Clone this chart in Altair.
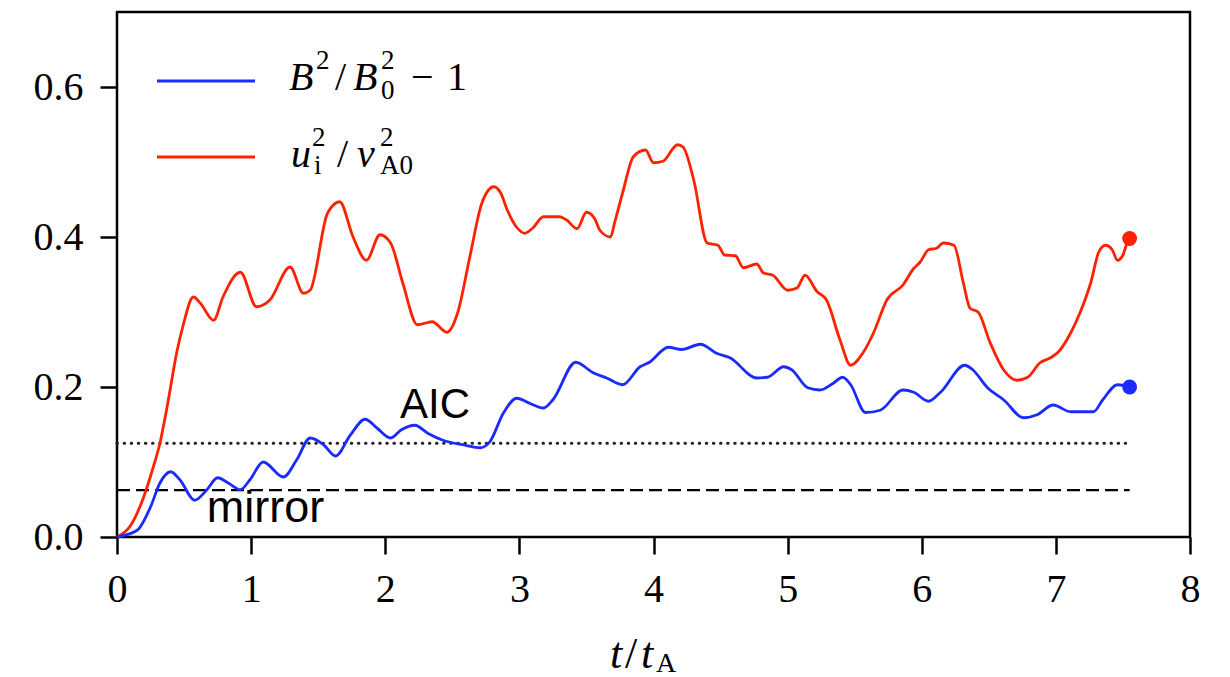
import altair as alt
import pandas as pd

# ---- data ----
t_red = [0.00, 0.10, 0.19, 0.27, 0.32, 0.37, 0.45, 0.49, 0.57, 0.62, 0.72, 0.79, 0.92, 1.04, 1.14,
         1.29, 1.39, 1.44, 1.57, 1.66, 1.76, 1.86, 1.96, 2.04, 2.13, 2.24, 2.35, 2.46, 2.54, 2.63,
         2.72, 2.81, 2.86, 2.91, 2.98, 3.04, 3.10, 3.18, 3.30, 3.35, 3.43, 3.50, 3.56, 3.60, 3.68,
         3.71, 3.77, 3.85, 3.94, 4.00, 4.07, 4.18, 4.22, 4.30, 4.40, 4.48, 4.53, 4.61, 4.67, 4.77,
         4.82, 4.89, 5.00, 5.07, 5.13, 5.22, 5.29, 5.39, 5.47, 5.56, 5.64, 5.74, 5.86, 5.94, 5.99,
         6.05, 6.11, 6.16, 6.24, 6.31, 6.36, 6.42, 6.51, 6.61, 6.71, 6.79, 6.88, 6.96, 7.02, 7.11,
         7.18, 7.26, 7.32, 7.37, 7.42, 7.46, 7.50, 7.53, 7.55]
y_red = [0.000, 0.015, 0.049, 0.093, 0.125, 0.170, 0.250, 0.280, 0.320, 0.312, 0.289, 0.320, 0.353, 0.307, 0.316,
         0.360, 0.325, 0.329, 0.432, 0.447, 0.400, 0.369, 0.403, 0.392, 0.339, 0.283, 0.287, 0.273, 0.299, 0.373,
         0.445, 0.467, 0.459, 0.436, 0.413, 0.405, 0.412, 0.427, 0.427, 0.423, 0.411, 0.433, 0.425, 0.409, 0.400,
         0.419, 0.459, 0.507, 0.516, 0.499, 0.501, 0.523, 0.520, 0.476, 0.392, 0.389, 0.376, 0.375, 0.359, 0.364,
         0.352, 0.349, 0.329, 0.332, 0.349, 0.327, 0.316, 0.263, 0.229, 0.245, 0.272, 0.316, 0.336, 0.358, 0.367,
         0.383, 0.385, 0.392, 0.389, 0.339, 0.305, 0.300, 0.259, 0.223, 0.209, 0.213, 0.232, 0.239, 0.247, 0.272,
         0.299, 0.339, 0.380, 0.389, 0.383, 0.369, 0.376, 0.392, 0.398]

t_blue = [0.00, 0.15, 0.25, 0.32, 0.40, 0.47, 0.58, 0.67, 0.75, 0.83, 0.92, 0.99, 1.09, 1.24, 1.34,
          1.44, 1.54, 1.63, 1.74, 1.85, 1.94, 2.04, 2.12, 2.22, 2.32, 2.43, 2.58, 2.71, 2.78, 2.88,
          2.98, 3.08, 3.18, 3.25, 3.42, 3.55, 3.65, 3.77, 3.90, 3.97, 4.11, 4.21, 4.35, 4.47, 4.57,
          4.77, 4.85, 4.97, 5.03, 5.15, 5.24, 5.34, 5.41, 5.47, 5.58, 5.69, 5.86, 5.94, 6.05, 6.14,
          6.32, 6.38, 6.49, 6.61, 6.76, 6.86, 6.98, 7.11, 7.28, 7.35, 7.46, 7.55]
y_blue = [0.000, 0.009, 0.040, 0.072, 0.087, 0.076, 0.049, 0.063, 0.079, 0.072, 0.063, 0.076, 0.100, 0.080, 0.103,
          0.132, 0.123, 0.108, 0.136, 0.157, 0.145, 0.132, 0.143, 0.149, 0.138, 0.129, 0.123, 0.119, 0.127, 0.165,
          0.185, 0.178, 0.172, 0.183, 0.233, 0.219, 0.212, 0.203, 0.227, 0.233, 0.253, 0.250, 0.257, 0.245, 0.239,
          0.212, 0.213, 0.227, 0.223, 0.199, 0.196, 0.205, 0.213, 0.203, 0.166, 0.169, 0.196, 0.193, 0.181, 0.193,
          0.229, 0.223, 0.199, 0.183, 0.159, 0.163, 0.176, 0.167, 0.167, 0.183, 0.203, 0.200]

aic_level = 0.125
mirror_level = 0.0625
t_end = 7.55
ann_labels = ["AIC", "mirror"]
ann_t = [2.11, 0.67]
ann_y = [0.159, 0.020]
x_ticks = [0, 1, 2, 3, 4, 5, 6, 7, 8]
y_ticks = [0.0, 0.2, 0.4, 0.6]

BLUE = "#1a2bff"
RED = "#ff2200"
SERIF = "Liberation Serif"
SANS = "Liberation Sans"

red_df = pd.DataFrame({"t": t_red, "v": y_red})
blue_df = pd.DataFrame({"t": t_blue, "v": y_blue})
end_red = pd.DataFrame({"t": [t_red[-1]], "v": [y_red[-1]]})
end_blue = pd.DataFrame({"t": [t_blue[-1]], "v": [y_blue[-1]]})
levels_df = pd.DataFrame({"lvl": [aic_level, mirror_level], "t0": [0, 0], "t1": [t_end, t_end]})

xs = alt.Scale(domain=[0, 8], nice=False, zero=False)
ys = alt.Scale(domain=[0, 0.7], nice=False, zero=False)

X = alt.X("t:Q", scale=xs, axis=alt.Axis(values=x_ticks, format="d", title=None, labelPadding=15))
Y = alt.Y("v:Q", scale=ys, axis=alt.Axis(values=y_ticks, format=".1f", title=None, labelPadding=17))

dotted = alt.Chart(levels_df.iloc[[0]]).mark_rule(
    color="#222222", strokeWidth=3, strokeDash=[0.5, 6.6], strokeCap="round"
).encode(x=alt.X("t0:Q", scale=xs), x2="t1:Q", y=alt.Y("lvl:Q", scale=ys))
dashed = alt.Chart(levels_df.iloc[[1]]).mark_rule(
    color="black", strokeWidth=2.3, strokeDash=[13, 6]
).encode(x=alt.X("t0:Q", scale=xs), x2="t1:Q", y=alt.Y("lvl:Q", scale=ys))

red_line = alt.Chart(red_df).mark_line(color=RED, strokeWidth=2.8, interpolate="monotone").encode(x=X, y=Y)
blue_line = alt.Chart(blue_df).mark_line(color=BLUE, strokeWidth=2.8, interpolate="monotone").encode(x=X, y=Y)
red_dot = alt.Chart(end_red).mark_circle(color=RED, size=220, opacity=1).encode(x=X, y=Y)
blue_dot = alt.Chart(end_blue).mark_circle(color=BLUE, size=220, opacity=1).encode(x=X, y=Y)

aic_txt = alt.Chart(pd.DataFrame({"t": [ann_t[0]], "v": [ann_y[0]], "s": [ann_labels[0]]})).mark_text(
    font=SANS, fontSize=42, align="left", baseline="alphabetic", color="black"
).encode(x=X, y=Y, text="s:N")
mirror_txt = alt.Chart(pd.DataFrame({"t": [ann_t[1]], "v": [ann_y[1]], "s": [ann_labels[1]]})).mark_text(
    font=SANS, fontSize=45, align="left", baseline="alphabetic", color="black"
).encode(x=X, y=Y, text="s:N")

one = alt.Data(values=[{"k": 0}])


def piece(txt, vx, vy, size, style="normal"):
    return alt.Chart(one).mark_text(
        text=txt, font=SERIF, fontSize=size, fontStyle=style,
        align="left", baseline="alphabetic", color="black"
    ).encode(x=alt.value(vx), y=alt.value(vy))


def seg(color, vy):
    return alt.Chart(one).mark_rule(color=color, strokeWidth=2.8).encode(
        x=alt.value(40), x2=alt.value(138), y=alt.value(vy))


legend = [
    seg(BLUE, 69), seg(RED, 145),
    # B^2/B_0^2 - 1
    piece("B", 172, 78, 40, "italic"),
    piece("2", 199, 57, 27),
    piece("/", 218, 78, 40),
    piece("B", 236, 78, 40, "italic"),
    piece("2", 264, 57, 27),
    piece("0", 264, 87, 27),
    piece("\u2212", 294, 78, 40),
    piece("1", 330, 78, 40),
    # u_i^2 / v_A0^2
    piece("u", 174, 155, 40, "italic"),
    piece("2", 195, 134, 27),
    piece("i", 197, 162, 27),
    piece("/", 220, 155, 40),
    piece("v", 240, 155, 40, "italic"),
    piece("2", 263, 134, 27),
    piece("A0", 263, 162, 27),
    # x axis title t/t_A
    piece("t", 493, 656, 44, "italic"),
    piece("/", 508, 656, 44),
    piece("t", 524, 656, 44, "italic"),
    piece("A", 539, 660, 28),
]

chart = alt.layer(
    dotted, dashed, red_line, blue_line, red_dot, blue_dot, aic_txt, mirror_txt, *legend
).properties(
    width=1073, height=525,
    autosize=alt.AutoSizeParams(type="none"),
    padding={"left": 109, "top": 4, "right": 32, "bottom": 140},
    background="white",
).configure_view(
    stroke="black", strokeWidth=2.5
).configure_axis(
    domain=False, grid=False, ticks=True, tickSize=17, tickWidth=2.5, tickColor="black",
    labelFont=SERIF, labelFontSize=40, labelColor="black", labelFlush=False,
)

chart.save("out.html", embed_options={"renderer": "svg", "actions": False})
